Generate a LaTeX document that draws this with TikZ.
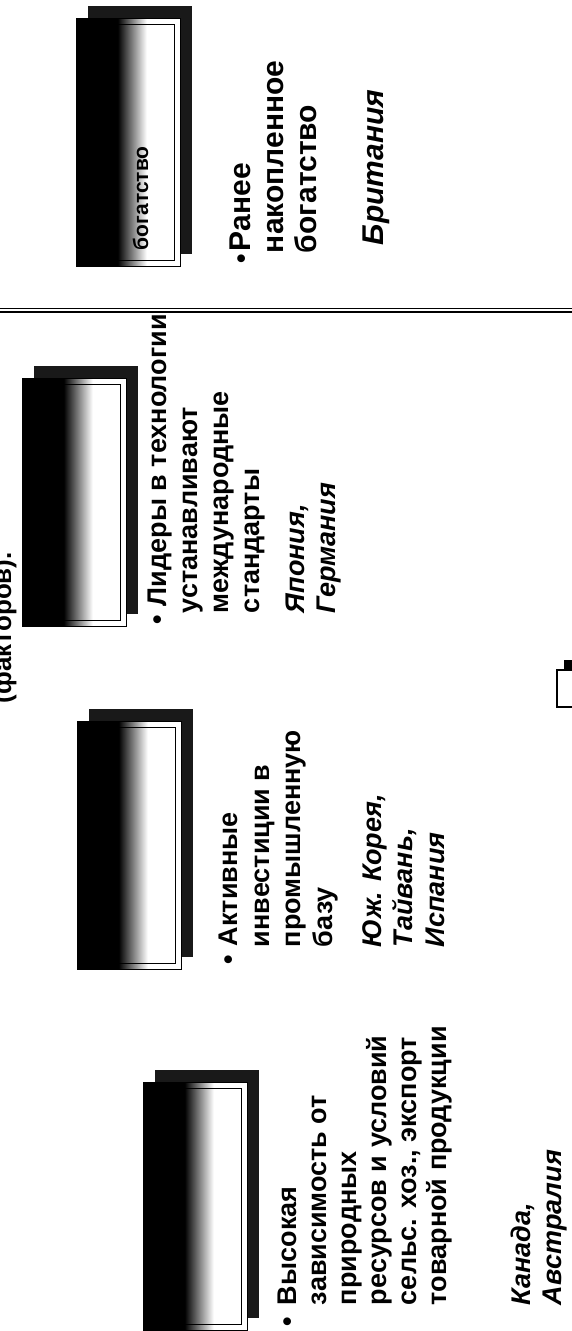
\documentclass[tikz,border=0pt]{standalone}
\usepackage{fontspec}
\setmainfont{Liberation Sans}
\pgfdeclarehorizontalshading{stagegrad}{100bp}{color(0bp)=(black); color(45bp)=(black); color(59bp)=(white); color(100bp)=(white)}
\newcommand\stagebox[3]{%
  \fill[shadowbox] (#2+12,#3-12) rectangle (#2+116,#3+236);
  \node[stagefront] (#1) at (#2,#3) {};
  \draw[innerframe] ([shift={(6,6)}]#1.north west) rectangle ([shift={(-6,-6)}]#1.south east);
}
\begin{document}
\begin{tikzpicture}[x=1pt,y=-1pt,
  txt/.style={rotate=90,anchor=base west,inner sep=0pt,outer sep=0pt,font=\fontsize{27}{32}\selectfont\bfseries},
  txti/.style={txt,font=\fontsize{27}{32}\selectfont\bfseries\itshape},
  txtb/.style={txt,font=\fontsize{30}{34}\selectfont\bfseries},
  txtbi/.style={txt,font=\fontsize{30}{34}\selectfont\bfseries\itshape},
  bul/.style={rotate=90,anchor=base,inner sep=0pt,font=\fontsize{27}{32}\selectfont\bfseries},
  titletxt/.style={txt,font=\fontsize{26}{30}\selectfont\bfseries},
  boxlabel/.style={txt,font=\fontsize{21}{22}\selectfont\bfseries},
  shadowbox/.style={fill=black!90},
  stagefront/.style={shading=stagegrad,draw=black,line width=0.8pt,minimum width=104pt,minimum height=248pt,anchor=north west,inner sep=0pt,outer sep=0pt},
  innerframe/.style={draw=black,line width=0.7pt},
  sepline/.style={draw=black},
]
\useasboundingbox (0,0) rectangle (572,1331);
\clip (0,0) rectangle (572,1331);
\fill[white] (0,0) rectangle (572,1331);

% title remainder (cut by the top edge of the slide crop)
\node[titletxt] (title) at (11,703) {(факторов).};

% stage boxes
\stagebox{s1}{143}{1082}
\stagebox{s2}{77}{721}
\stagebox{s3}{22}{378}
\stagebox{s4}{76}{18}
\node[boxlabel] (lbl4) at (148,250) {богатство};

% separator
\draw[sepline,line width=0.8pt] (0,308) -- (572,308);
\draw[sepline,line width=2pt] (0,311.5) -- (572,311.5);

% column 1
\node[bul] (b1) at (296,1322) {•};
\node[txt] (c1a) at (296,1305) {Высокая};
\node[txt] (c1b) at (326,1305) {зависимость от};
\node[txt] (c1c) at (356,1305) {природных};
\node[txt] (c1d) at (386,1305) {ресурсов и условий};
\node[txt] (c1e) at (416,1305) {сельс. хоз., экспорт};
\node[txt] (c1f) at (446,1305) {товарной продукции};
\node[txti] (c1g) at (530,1305) {Канада,};
\node[txti] (c1h) at (561,1305) {Австралия};

% column 2
\node[bul] (b2) at (237,960) {•};
\node[txt] (c2a) at (237,946) {Активные};
\node[txt] (c2b) at (269,947) {инвестиции в};
\node[txt] (c2c) at (300,947) {промышленную};
\node[txt] (c2d) at (332,947) {базу};
\node[txti] (c2e) at (381,947) {Юж. Корея,};
\node[txti] (c2f) at (412,947) {Тайвань,};
\node[txti] (c2g) at (444,947) {Испания};

% column 3
\node[bul] (b3) at (166,620) {•};
\node[txt] (c3a) at (166,606) {Лидеры в технологии};
\node[txt] (c3b) at (197,613) {устанавливают};
\node[txt] (c3c) at (228,613) {международные};
\node[txt] (c3d) at (259,613) {стандарты};
\node[txti] (c3e) at (304,613) {Япония,};
\node[txti] (c3f) at (335,613) {Германия};

% column 4
\node[bul] (b4) at (250,259) {•};
\node[txtb] (c4a) at (250,251) {Ранее};
\node[txtb] (c4b) at (283,253) {накопленное};
\node[txtb] (c4c) at (316,253) {богатство};
\node[txtbi] (c4d) at (383,245) {Британия};

% small icon at the edge
\draw[line width=1.5pt] (580,670) -- (557,670) -- (557,707) -- (580,707);
\fill (564,660) rectangle (574,671);
\end{tikzpicture}
\end{document}
